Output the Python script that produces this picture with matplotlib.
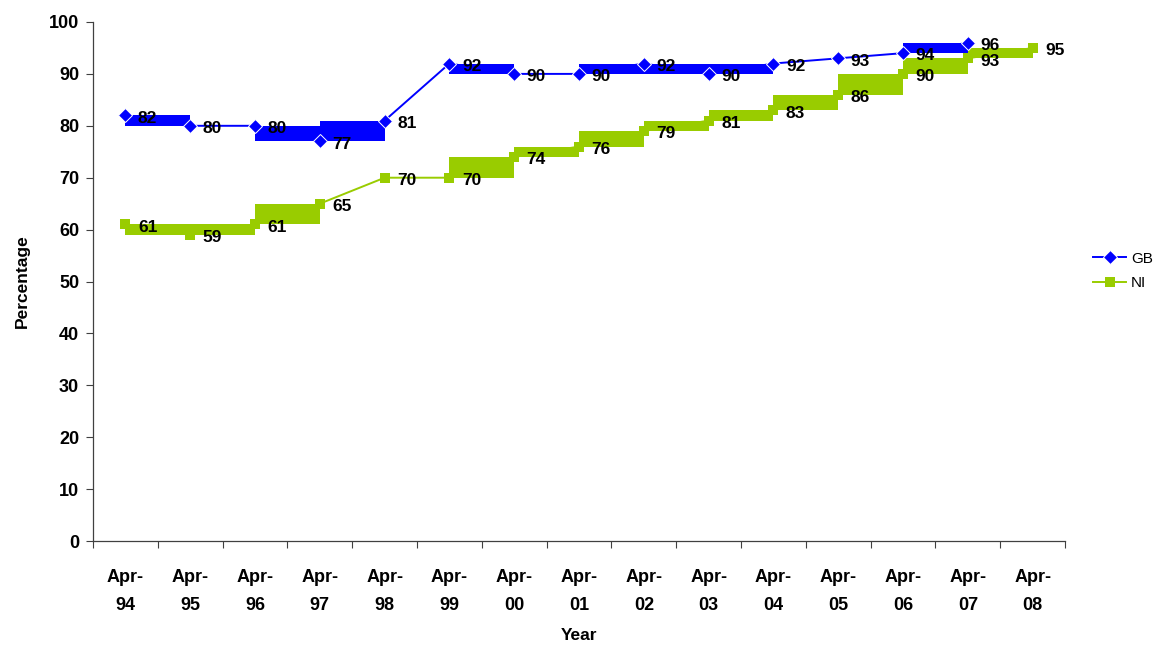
import matplotlib.pyplot as plt
import numpy as np

plt.rcParams['font.family'] = ['Liberation Sans', 'DejaVu Sans']

years = ['94', '95', '96', '97', '98', '99', '00', '01', '02', '03', '04', '05', '06', '07', '08']
gb = [82, 80, 80, 77, 81, 92, 90, 90, 92, 90, 92, 93, 94, 96]
ni = [61, 59, 61, 65, 70, 70, 74, 76, 79, 81, 83, 86, 90, 93, 95]
# segments drawn as thick blocks (start index of each)
gb_blocks = [0, 2, 3, 5, 7, 8, 9, 12]
ni_blocks = [0, 1, 2, 5, 6, 7, 8, 9, 10, 11, 12, 13]

blue = '#0000FF'
green = '#99CC00'

fig = plt.figure(figsize=(11.66, 6.45), dpi=100)
ax = fig.add_axes([0.0798, 0.1612, 0.8336, 0.8047])

x_gb = np.arange(len(gb))
x_ni = np.arange(len(ni))

def blocks(xs, ys, idx, color):
    for i in idx:
        lo = min(ys[i], ys[i + 1])
        hi = max(ys[i], ys[i + 1])
        ax.fill_between([xs[i], xs[i + 1]], lo, hi, color=color, linewidth=0, zorder=2)

blocks(x_gb, gb, gb_blocks, blue)
blocks(x_ni, ni, ni_blocks, green)

ax.plot(x_gb, gb, color=blue, marker='D', markersize=7, linewidth=1.4, label='GB', zorder=3,
        markeredgecolor='white', markeredgewidth=0.7)
ax.plot(x_ni, ni, color=green, marker='s', markersize=7, linewidth=1.4, label='NI', zorder=3,
        markeredgewidth=0)

for xs, ys in ((x_gb, gb), (x_ni, ni)):
    for x, y in zip(xs, ys):
        ax.annotate(str(y), (x, y), xytext=(9, -2), textcoords='offset points',
                    ha='left', va='center', fontsize=12.5, fontweight='bold', zorder=4)

ax.set_xlim(-0.5, len(years) - 0.5)
ax.set_ylim(0, 100)
ax.set_yticks(range(0, 101, 10))
ax.set_xticks(np.arange(len(years)))
ax.set_xticklabels(['Apr-\n' + y for y in years], fontsize=13, fontweight='bold', linespacing=1.85)
ax.set_xticks(np.arange(-0.5, len(years)), minor=True)
ax.tick_params(axis='x', which='major', length=0, pad=20)
ax.tick_params(axis='x', which='minor', length=5, width=0.8, color='#404040')
ax.tick_params(axis='y', length=5, width=0.8, color='#404040', labelsize=13, pad=5)
for lab in ax.get_yticklabels():
    lab.set_fontweight('bold')

for s in ('top', 'right'):
    ax.spines[s].set_visible(False)
for s in ('left', 'bottom'):
    ax.spines[s].set_color('#404040')
    ax.spines[s].set_linewidth(0.9)

ax.set_ylabel('Percentage', fontsize=12.5, fontweight='bold', labelpad=14)
ax.set_xlabel('Year', fontsize=12.5, fontweight='bold', labelpad=10)

ax.legend(loc='center left', bbox_to_anchor=(1.016, 0.52), frameon=False, fontsize=11,
          handlelength=2.2, labelspacing=0.7, handletextpad=0.3, borderpad=0.3)

fig.savefig('out.png', dpi=100)
